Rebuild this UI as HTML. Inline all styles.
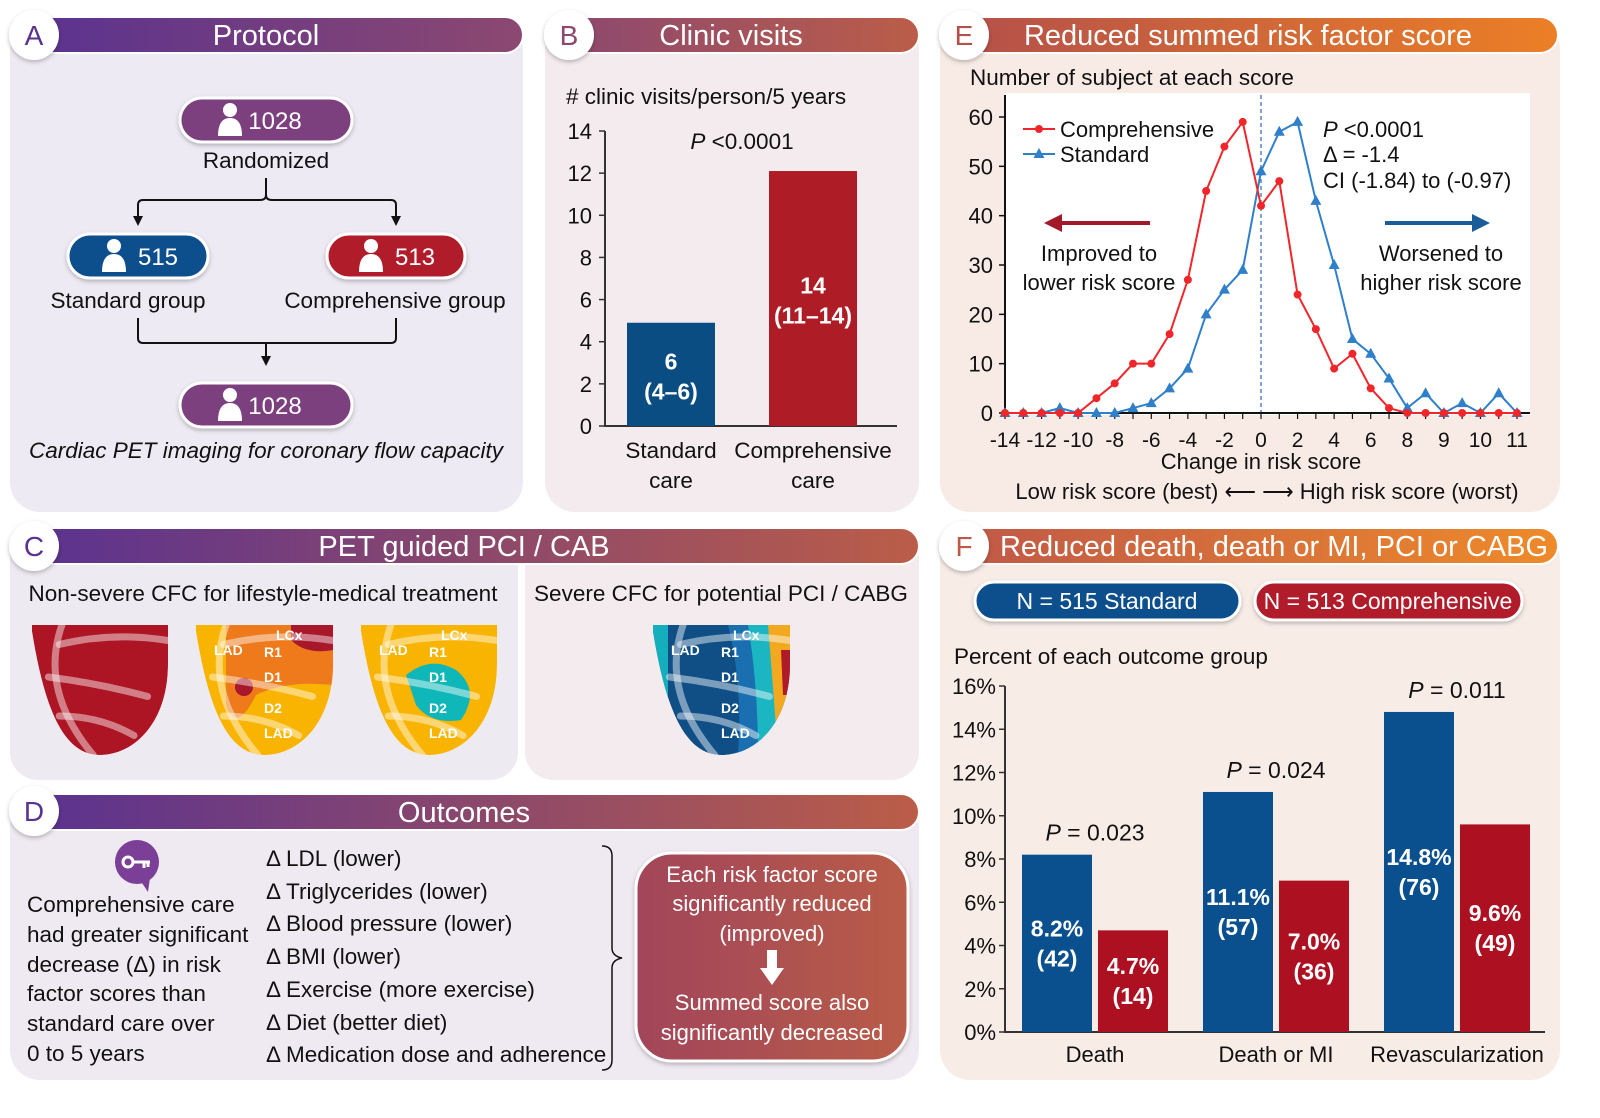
<!DOCTYPE html>
<html><head><meta charset="utf-8">
<style>
html,body{margin:0;padding:0;background:#fff;}
svg{display:block;font-family:"Liberation Sans",sans-serif;}
.t{fill:#111;font-size:22.5px;}
.w{fill:#fff;}
.h{fill:#fff;font-size:29px;}
</style></head>
<body>
<svg id="root" width="1600" height="1118" viewBox="0 0 1600 1118" xmlns="http://www.w3.org/2000/svg">
<defs>
<linearGradient id="gA" x1="0" x2="1"><stop offset="0" stop-color="#5a3290"/><stop offset="1" stop-color="#8c4870"/></linearGradient>
<linearGradient id="gB" x1="0" x2="1"><stop offset="0" stop-color="#8c4870"/><stop offset="1" stop-color="#bb5d48"/></linearGradient>
<linearGradient id="gE" x1="0" x2="1"><stop offset="0" stop-color="#b4504a"/><stop offset="1" stop-color="#ec7f26"/></linearGradient>
<linearGradient id="gC" x1="0" x2="1"><stop offset="0" stop-color="#5a3290"/><stop offset="1" stop-color="#bb5d48"/></linearGradient>
<linearGradient id="gF" x1="0" x2="1"><stop offset="0" stop-color="#c05848"/><stop offset="1" stop-color="#ee8a2a"/></linearGradient>
<linearGradient id="gBox" x1="0" x2="1"><stop offset="0" stop-color="#a2455a"/><stop offset="1" stop-color="#b95c48"/></linearGradient>
<filter id="sh" x="-20%" y="-20%" width="140%" height="140%"><feDropShadow dx="0" dy="2" stdDeviation="2" flood-color="#000" flood-opacity="0.25"/></filter>
</defs>

<!-- panel backgrounds -->
<rect x="10" y="20" width="513" height="492" rx="30" fill="#eeeaf3"/>
<rect x="545" y="20" width="374" height="492" rx="30" fill="#f4ebee"/>
<rect x="940" y="20" width="620" height="492" rx="30" fill="#f8ebe5"/>
<rect x="10" y="530" width="508" height="250" rx="28" fill="#eeeaf2"/>
<rect x="525" y="530" width="394" height="250" rx="28" fill="#f3ebee"/>
<rect x="10" y="796" width="909" height="284" rx="30" fill="#efeaf1"/>
<rect x="940" y="530" width="620" height="550" rx="30" fill="#f8ece7"/>

<!-- headers -->
<g>
<rect x="28" y="17" width="495" height="36" rx="18" fill="url(#gA)" stroke="#fff" stroke-width="2"/>
<circle cx="34" cy="35" r="25" fill="#fff" filter="url(#sh)"/>
<text x="34" y="45" text-anchor="middle" font-size="28" fill="#5a3290">A</text>
<text x="266" y="45" text-anchor="middle" class="h">Protocol</text></g>
<g>
<rect x="563" y="17" width="356" height="36" rx="18" fill="url(#gB)" stroke="#fff" stroke-width="2"/>
<circle cx="569" cy="35" r="25" fill="#fff" filter="url(#sh)"/>
<text x="569" y="45" text-anchor="middle" font-size="28" fill="#8c4870">B</text>
<text x="731" y="45" text-anchor="middle" class="h">Clinic visits</text></g>
<g>
<rect x="958" y="17" width="600" height="36" rx="18" fill="url(#gE)" stroke="#fff" stroke-width="2"/>
<circle cx="964" cy="35" r="25" fill="#fff" filter="url(#sh)"/>
<text x="964" y="45" text-anchor="middle" font-size="28" fill="#b4504a">E</text>
<text x="1248" y="45" text-anchor="middle" class="h">Reduced summed risk factor score</text></g>
<g>
<rect x="28" y="528" width="891" height="36" rx="18" fill="url(#gC)" stroke="#fff" stroke-width="2"/>
<circle cx="34" cy="546" r="25" fill="#fff" filter="url(#sh)"/>
<text x="34" y="556" text-anchor="middle" font-size="28" fill="#5a3290">C</text>
<text x="464" y="556" text-anchor="middle" class="h">PET guided PCI / CAB</text></g>
<g>
<rect x="28" y="794" width="891" height="36" rx="18" fill="url(#gC)" stroke="#fff" stroke-width="2"/>
<circle cx="34" cy="811" r="25" fill="#fff" filter="url(#sh)"/>
<text x="34" y="821" text-anchor="middle" font-size="28" fill="#5a3290">D</text>
<text x="464" y="822" text-anchor="middle" class="h">Outcomes</text></g>
<g>
<rect x="958" y="528" width="600" height="36" rx="18" fill="url(#gF)" stroke="#fff" stroke-width="2"/>
<circle cx="964" cy="546" r="25" fill="#fff" filter="url(#sh)"/>
<text x="964" y="556" text-anchor="middle" font-size="28" fill="#c05848">F</text>
<text x="1274" y="556" text-anchor="middle" class="h">Reduced death, death or MI, PCI or CABG</text></g>

<!-- Panel A -->
<g>
<g>
<rect x="180" y="98" width="172" height="44" rx="22" fill="#7b3f7f" stroke="#fff" stroke-width="3" filter="url(#sh)"/>
<circle cx="230" cy="110" r="7" fill="#fff"/><path d="M218 136 Q218 118 230 118 Q242 118 242 136 Z" fill="#fff"/>
<text x="275" y="129" text-anchor="middle" font-size="24" class="w">1028</text></g>
<text x="266" y="168" text-anchor="middle" class="t">Randomized</text>
<path d="M266 178 V195 M266 195 Q266 200 260 200 H143 Q138 200 138 205 V218 M266 195 Q266 200 272 200 H391 Q396 200 396 205 V218" fill="none" stroke="#111" stroke-width="2"/>
<path d="M133 216 L143 216 L138 226 Z M391 216 L401 216 L396 226 Z" fill="#111"/>
<g>
<rect x="68" y="234" width="140" height="44" rx="22" fill="#0b4f8d" stroke="#fff" stroke-width="3" filter="url(#sh)"/>
<circle cx="114" cy="246" r="7" fill="#fff"/><path d="M102 272 Q102 254 114 254 Q126 254 126 272 Z" fill="#fff"/>
<text x="158" y="265" text-anchor="middle" font-size="24" class="w">515</text></g>
<g>
<rect x="327" y="234" width="138" height="44" rx="22" fill="#b01b2a" stroke="#fff" stroke-width="3" filter="url(#sh)"/>
<circle cx="371" cy="246" r="7" fill="#fff"/><path d="M359 272 Q359 254 371 254 Q383 254 383 272 Z" fill="#fff"/>
<text x="415" y="265" text-anchor="middle" font-size="24" class="w">513</text></g>
<text x="128" y="308" text-anchor="middle" class="t">Standard group</text>
<text x="395" y="308" text-anchor="middle" class="t">Comprehensive group</text>
<path d="M138 318 V338 Q138 343 143 343 H391 Q396 343 396 338 V318 M266 343 V358" fill="none" stroke="#111" stroke-width="2"/>
<path d="M261 356 L271 356 L266 366 Z" fill="#111"/>
<g>
<rect x="180" y="383" width="172" height="44" rx="22" fill="#7b3f7f" stroke="#fff" stroke-width="3" filter="url(#sh)"/>
<circle cx="230" cy="395" r="7" fill="#fff"/><path d="M218 421 Q218 403 230 403 Q242 403 242 421 Z" fill="#fff"/>
<text x="275" y="414" text-anchor="middle" font-size="24" class="w">1028</text></g>
<text x="266" y="458" text-anchor="middle" class="t" font-style="italic">Cardiac PET imaging for coronary flow capacity</text>
</g>

<!-- Panel B chart -->
<g id="chartB">
<text x="566" y="104" class="t"># clinic visits/person/5 years</text>
<text x="742" y="149" text-anchor="middle" class="t"><tspan font-style="italic">P</tspan> &lt;0.0001</text>
</g>

<!-- Panel E chart -->
<g id="chartE">
<text x="970" y="85" class="t">Number of subject at each score</text>
<rect x="1005" y="93" width="525" height="322" fill="#fff"/>
</g>

<!-- Panel C -->
<text x="263" y="601" text-anchor="middle" class="t">Non-severe CFC for lifestyle-medical treatment</text>
<text x="721" y="601" text-anchor="middle" class="t">Severe CFC for potential PCI / CABG</text>
<g id="hearts"></g>

<!-- Panel D -->
<g>
<circle cx="137" cy="862" r="22" fill="#7b3f97"/><path d="M140 880 L148 892 L150 878 Z" fill="#7b3f97"/>
<circle cx="128" cy="862" r="5" fill="none" stroke="#fff" stroke-width="3"/>
<path d="M133 862 H150 M144 862 V868 M148 862 V867" stroke="#fff" stroke-width="3" fill="none"/></g>
<g>
<text x="27" y="912" class="t">Comprehensive care</text>
<text x="27" y="942" class="t">had greater significant</text>
<text x="27" y="972" class="t">decrease (Δ) in risk</text>
<text x="27" y="1001" class="t">factor scores than</text>
<text x="27" y="1031" class="t">standard care over</text>
<text x="27" y="1061" class="t">0 to 5 years</text></g>
<g>
<text x="266" y="866" class="t">Δ LDL (lower)</text>
<text x="266" y="899" class="t">Δ Triglycerides (lower)</text>
<text x="266" y="931" class="t">Δ Blood pressure (lower)</text>
<text x="266" y="964" class="t">Δ BMI (lower)</text>
<text x="266" y="997" class="t">Δ Exercise (more exercise)</text>
<text x="266" y="1030" class="t">Δ Diet (better diet)</text>
<text x="266" y="1062" class="t">Δ Medication dose and adherence</text></g>
<path d="M602 846 Q612 846 612 856 V948 Q612 956 622 958 Q612 960 612 968 V1060 Q612 1070 602 1070" fill="none" stroke="#111" stroke-width="1.5"/>
<g>
<rect x="636" y="853" width="272" height="208" rx="36" fill="url(#gBox)" stroke="#fff" stroke-width="3" filter="url(#sh)"/>
<text x="772" y="882" text-anchor="middle" font-size="22" class="w">Each risk factor score</text>
<text x="772" y="911" text-anchor="middle" font-size="22" class="w">significantly reduced</text>
<text x="772" y="941" text-anchor="middle" font-size="22" class="w">(improved)</text>
<path d="M767 950 H777 V968 H784 L772 985 L760 968 H767 Z" fill="#fff"/>
<text x="772" y="1010" text-anchor="middle" font-size="22" class="w">Summed score also</text>
<text x="772" y="1040" text-anchor="middle" font-size="22" class="w">significantly decreased</text></g>

<!-- Panel F -->
<g>
<rect x="975" y="582" width="265" height="38" rx="19" fill="#0b4f8d" stroke="#fff" stroke-width="3" filter="url(#sh)"/>
<text x="1107" y="609" text-anchor="middle" font-size="23" class="w">N = 515 Standard</text></g>
<g>
<rect x="1255" y="582" width="267" height="38" rx="19" fill="#b01b2a" stroke="#fff" stroke-width="3" filter="url(#sh)"/>
<text x="1388" y="609" text-anchor="middle" font-size="23" class="w">N = 513 Comprehensive</text></g>
<g id="chartF">
<text x="954" y="664" class="t">Percent of each outcome group</text>
</g>
</svg>

<script>
// ===== Panel B data =====
const bCategories = ["Standard care", "Comprehensive care"];
const bValues = [4.9, 12.1];
const bLabels = [["6", "(4–6)"], ["14", "(11–14)"]];
const bTicks = [0, 2, 4, 6, 8, 10, 12, 14];

// ===== Panel E data =====
const eScores = [-14,-13,-12,-11,-10,-9,-8,-7,-6,-5,-4,-3,-2,-1,0,1,2,3,4,5,6,7,8,9,10,11,12,13,14];
const eComprehensive = [0,0,0,0,0,3,6,10,10,16,27,45,54,59,42,47,24,17,9,12,5,1,0,0,0,0,0,0,0];
const eStandard = [0,0,0,1,0,0,0,1,2,5,9,20,25,29,49,57,59,43,30,15,12,7,1,4,0,2,0,4,0];
const eYTicks = [0, 10, 20, 30, 40, 50, 60];
const eXTickPos = [-14,-12,-10,-8,-6,-4,-2,0,2,4,6,8,10,12,14];
const eXTickLabels = ["-14","-12","-10","-8","-6","-4","-2","0","2","4","6","8","9","10","11"];

// ===== Panel F data =====
const fCategories = ["Death", "Death or MI", "Revascularization"];
const fStandard = [8.2, 11.1, 14.8];
const fComprehensive = [4.7, 7.0, 9.6];
const fStdCounts = ["(42)", "(57)", "(76)"];
const fCompCounts = ["(14)", "(36)", "(49)"];
const fPValues = ["0.023", "0.024", "0.011"];
const fTicks = [0, 2, 4, 6, 8, 10, 12, 14, 16];

const NS = "http://www.w3.org/2000/svg";
function mk(parent, tag, attrs, txt) {
  const el = document.createElementNS(NS, tag);
  for (const k in attrs) el.setAttribute(k, attrs[k]);
  if (txt !== undefined) el.textContent = txt;
  parent.appendChild(el);
  return el;
}

// ---- Chart B ----
(function(){
  const g = document.getElementById("chartB");
  const y = v => 426 - v * (295 / 14);
  const x0 = 605;
  bTicks.forEach(t => {
    const tl = mk(g, "text", {x: 592, y: y(t) + 8, "text-anchor": "end", "font-size": 22, fill: "#111"}, String(t));
    
    
    mk(g, "line", {x1: x0 - 6, x2: x0, y1: y(t), y2: y(t), stroke: "#333", "stroke-width": 1.5});
  });
  const ax = mk(g, "path", {d: `M${x0} ${y(14)} V426 H897`, fill: "none", stroke: "#333", "stroke-width": 2});
  
  
  const cols = ["#0a4d82", "#ae1c26"];
  const lefts = [627, 769];
  bValues.forEach((v, i) => {
    const r = mk(g, "rect", {x: lefts[i], y: y(v), width: 88, height: 426 - y(v), fill: cols[i]});
    
    
    const cx = lefts[i] + 44, my = (y(v) + 426) / 2;
    mk(g, "text", {x: cx, y: my - 5, "text-anchor": "middle", "font-size": 23, "font-weight": "bold", fill: "#fff"}, bLabels[i][0]);
    mk(g, "text", {x: cx, y: my + 25, "text-anchor": "middle", "font-size": 23, "font-weight": "bold", fill: "#fff"}, bLabels[i][1]);
    const parts = bCategories[i].split(" ");
    const c1 = mk(g, "text", {x: i === 0 ? 671 : 813, y: 458, "text-anchor": "middle", "font-size": 22.5, fill: "#111"}, parts[0]);
    
    
    mk(g, "text", {x: i === 0 ? 671 : 813, y: 488, "text-anchor": "middle", "font-size": 22.5, fill: "#111"}, parts[1]);
  });
})();

// ---- Chart E ----
(function(){
  const g = document.getElementById("chartE");
  const x = s => 1005 + (s + 14) * (512 / 28);
  const y = v => 413 - v * (296 / 60);
  mk(g, "line", {x1: x(0), x2: x(0), y1: 95, y2: 413, stroke: "#3b73c4", "stroke-width": 1.3, "stroke-dasharray": "4 3"});
  eYTicks.forEach(t => {
    const tl = mk(g, "text", {x: 993, y: y(t) + 8, "text-anchor": "end", "font-size": 22, fill: "#111"}, String(t));
    
    
    mk(g, "line", {x1: 999, x2: 1005, y1: y(t), y2: y(t), stroke: "#111", "stroke-width": 1.5});
  });
  eScores.forEach(s => mk(g, "line", {x1: x(s), x2: x(s), y1: 413, y2: 419, stroke: "#111", "stroke-width": 1.2}));
  eXTickPos.forEach((s, i) => {
    const tl = mk(g, "text", {x: x(s), y: 447, "text-anchor": "middle", "font-size": 21, fill: "#111"}, eXTickLabels[i]);
    
    
  });
  const ax = mk(g, "path", {d: `M1005 95 V413 H1530`, fill: "none", stroke: "#111", "stroke-width": 2});
  
  
  const bp = eScores.map((s, i) => `${x(s)},${y(eStandard[i])}`).join(" ");
  const bl = mk(g, "polyline", {points: bp, fill: "none", stroke: "#2f7fc9", "stroke-width": 2});
  
  
  eScores.forEach((s, i) => {
    const cx = x(s), cy = y(eStandard[i]);
    const m = mk(g, "path", {d: `M${cx} ${cy-6} L${cx+5.5} ${cy+4} L${cx-5.5} ${cy+4} Z`, fill: "#2f7fc9"});
    
    
  });
  const rp = eScores.map((s, i) => `${x(s)},${y(eComprehensive[i])}`).join(" ");
  const rl = mk(g, "polyline", {points: rp, fill: "none", stroke: "#f0262b", "stroke-width": 2});
  
  
  eScores.forEach((s, i) => {
    const m = mk(g, "circle", {cx: x(s), cy: y(eComprehensive[i]), r: 4, fill: "#f0262b"});
    
    
  });
  const lg = mk(g, "g", {});
  
  
  mk(lg, "line", {x1: 1023, x2: 1055, y1: 129, y2: 129, stroke: "#f0262b", "stroke-width": 2});
  mk(lg, "circle", {cx: 1039, cy: 129, r: 4, fill: "#f0262b"});
  mk(lg, "text", {x: 1060, y: 137, "font-size": 22, fill: "#111"}, "Comprehensive");
  mk(lg, "line", {x1: 1023, x2: 1055, y1: 154, y2: 154, stroke: "#2f7fc9", "stroke-width": 2});
  mk(lg, "path", {d: "M1039 148 L1044.5 158 L1033.5 158 Z", fill: "#2f7fc9"});
  mk(lg, "text", {x: 1060, y: 162, "font-size": 22, fill: "#111"}, "Standard");
  const st = mk(g, "g", {});
  
  
  const p = mk(st, "text", {x: 1323, y: 137, "font-size": 22, fill: "#111"});
  mk(p, "tspan", {"font-style": "italic"}, "P");
  mk(p, "tspan", {}, " <0.0001");
  mk(st, "text", {x: 1323, y: 162, "font-size": 22, fill: "#111"}, "Δ = -1.4");
  mk(st, "text", {x: 1323, y: 188, "font-size": 22, fill: "#111"}, "CI (-1.84) to (-0.97)");
  const a1 = mk(g, "path", {d: "M1150 221 H1062 V214 L1044 223 L1062 232 V225 H1150 Z", fill: "#a3192a"});
  
  
  const a2 = mk(g, "path", {d: "M1385 221 H1472 V214 L1490 223 L1472 232 V225 H1385 Z", fill: "#1a5c97"});
  
  
  mk(g, "text", {x: 1099, y: 261, "text-anchor": "middle", "font-size": 22, fill: "#111"}, "Improved to");
  mk(g, "text", {x: 1099, y: 290, "text-anchor": "middle", "font-size": 22, fill: "#111"}, "lower risk score");
  mk(g, "text", {x: 1441, y: 261, "text-anchor": "middle", "font-size": 22, fill: "#111"}, "Worsened to");
  mk(g, "text", {x: 1441, y: 290, "text-anchor": "middle", "font-size": 22, fill: "#111"}, "higher risk score");
  const xt = mk(g, "text", {x: 1261, y: 469, "text-anchor": "middle", "font-size": 22, fill: "#111"}, "Change in risk score");
  
  
  mk(g, "text", {x: 1267, y: 499, "text-anchor": "middle", "font-size": 22, fill: "#111"}, "Low risk score (best) ⟵ ⟶ High risk score (worst)");
})();

// ---- Chart F ----
(function(){
  const g = document.getElementById("chartF");
  const y = v => 1032 - v * (346 / 16);
  fTicks.forEach(t => {
    const tl = mk(g, "text", {x: 996, y: y(t) + 8, "text-anchor": "end", "font-size": 22, fill: "#111"}, t + "%");
    
    
    mk(g, "line", {x1: 999, x2: 1005, y1: y(t), y2: y(t), stroke: "#333", "stroke-width": 1.5});
  });
  const ax = mk(g, "path", {d: `M1005 ${y(16)} V1032 H1545`, fill: "none", stroke: "#333", "stroke-width": 2});
  
  
  const groupStart = [1022, 1203, 1384];
  const bw = 70, gap = 6;
  fCategories.forEach((c, i) => {
    const x1 = groupStart[i], x2 = x1 + bw + gap;
    const r1 = mk(g, "rect", {x: x1, y: y(fStandard[i]), width: bw, height: 1032 - y(fStandard[i]), fill: "#0a4f8e"});
    
    
    const r2 = mk(g, "rect", {x: x2, y: y(fComprehensive[i]), width: bw, height: 1032 - y(fComprehensive[i]), fill: "#ad1020"});
    
    
    const m1 = (y(fStandard[i]) + 1032) / 2, m2 = (y(fComprehensive[i]) + 1032) / 2;
    const bs = {"text-anchor": "middle", "font-size": 23, "font-weight": "bold", fill: "#fff"};
    mk(g, "text", Object.assign({x: x1 + bw/2, y: m1 - 7}, bs), fStandard[i].toFixed(1) + "%");
    mk(g, "text", Object.assign({x: x1 + bw/2, y: m1 + 23}, bs), fStdCounts[i]);
    mk(g, "text", Object.assign({x: x2 + bw/2, y: m2 - 7}, bs), fComprehensive[i].toFixed(1) + "%");
    mk(g, "text", Object.assign({x: x2 + bw/2, y: m2 + 23}, bs), fCompCounts[i]);
    const cx = x1 + bw + gap/2;
    const lab = mk(g, "text", {x: cx, y: 1062, "text-anchor": "middle", "font-size": 22, fill: "#111"}, c);
    
    
    const top = Math.min(y(fStandard[i]), y(fComprehensive[i]));
    const p = mk(g, "text", {x: cx, y: top - 14, "text-anchor": "middle", "font-size": 23, fill: "#111"});
    
    
    mk(p, "tspan", {"font-style": "italic"}, "P");
    mk(p, "tspan", {}, " = " + fPValues[i]);
  });
})();

// ---- Hearts (panel C) ----
(function(){
  const g = document.getElementById("hearts");
  const boxes = [[32,625,136,130],[196,625,137,130],[361,625,136,130],[653,625,137,130]];
  function shape(b){const [x,y,w,h]=b;return `M${x} ${y} H${x+w} V${y+h*0.3} C${x+w} ${y+h*0.75} ${x+w*0.75} ${y+h} ${x+w*0.5} ${y+h} C${x+w*0.25} ${y+h} ${x+w*0.1} ${y+h*0.7} ${x} ${y+h*0.05} Z`;}
  const fills = ["#ad1424", "#f8b400", "#f8b400", "#0f4f86"];
  boxes.forEach((b, i) => {
    const hg = mk(g, "g", {});
    
    
    const cid = "clip" + i;
    const cp = mk(hg, "clipPath", {id: cid});
    mk(cp, "path", {d: shape(b)});
    const inner = mk(hg, "g", {"clip-path": `url(#${cid})`});
    mk(inner, "path", {d: shape(b), fill: fills[i]});
    const [x,y,w,h] = b;
    if (i === 1) {
      mk(inner, "path", {d: `M${x+30} ${y} H${x+w} V${y+60} Q${x+90} ${y+55} ${x+60} ${y+70} Q${x+40} ${y+110} ${x+30} ${y+80} Z`, fill: "#ee7a1c"});
      mk(inner, "path", {d: `M${x+95} ${y} H${x+w} V${y+25} Q${x+110} ${y+30} ${x+95} ${y+15} Z`, fill: "#a9172a"});
      mk(inner, "circle", {cx: x+48, cy: y+62, r: 9, fill: "#a9172a"});
    }
    if (i === 2) {
      mk(inner, "path", {d: `M${x+45} ${y+50} Q${x+70} ${y+30} ${x+95} ${y+45} Q${x+120} ${y+65} ${x+100} ${y+95} Q${x+70} ${y+100} ${x+55} ${y+80} Z`, fill: "#0fb7b9"});
    }
    if (i === 3) {
      mk(inner, "path", {d: `M${x} ${y} H${x+15} V${y+h} H${x} Z`, fill: "#15aebd"});
      mk(inner, "path", {d: `M${x+75} ${y} H${x+w} V${y+h} H${x+85} Q${x+90} ${y+60} ${x+75} ${y} Z`, fill: "#1a6fb0"});
      mk(inner, "path", {d: `M${x+95} ${y} H${x+w} V${y+h} H${x+105} Q${x+105} ${y+60} ${x+95} ${y} Z`, fill: "#1cb6c2"});
      mk(inner, "path", {d: `M${x+115} ${y} H${x+w} V${y+h} H${x+125} Q${x+120} ${y+60} ${x+115} ${y} Z`, fill: "#f3a91f"});
      mk(inner, "path", {d: `M${x+128} ${y+25} H${x+w} V${y+70} H${x+130} Z`, fill: "#b01b2a"});
    }
    const vs = {fill: "none", stroke: "rgba(255,255,255,0.45)", "stroke-width": 7, "stroke-linecap": "round"};
    mk(inner, "path", Object.assign({d: `M${x+w*0.22} ${y} Q${x+w*0.05} ${y+h*0.5} ${x+w*0.45} ${y+h}`}, vs));
    mk(inner, "path", Object.assign({d: `M${x+w*0.2} ${y+h*0.15} Q${x+w*0.6} ${y+h*0.05} ${x+w} ${y+h*0.12}`}, vs));
    mk(inner, "path", Object.assign({d: `M${x+w*0.12} ${y+h*0.4} Q${x+w*0.5} ${y+h*0.45} ${x+w*0.85} ${y+h*0.55}`}, vs));
    mk(inner, "path", Object.assign({d: `M${x+w*0.2} ${y+h*0.7} Q${x+w*0.5} ${y+h*0.7} ${x+w*0.75} ${y+h*0.85}`}, vs));
    if (i > 0) {
      const lab = (t, dx, dy) => mk(inner, "text", {x: x+dx, y: y+dy, "font-size": 14, "font-weight": "bold", fill: "#fff"}, t);
      lab("LCx", 80, 15); lab("LAD", 18, 30); lab("R1", 68, 32); lab("D1", 68, 57); lab("D2", 68, 88); lab("LAD", 68, 113);
    }
  });
})();
</script>
</body></html>
